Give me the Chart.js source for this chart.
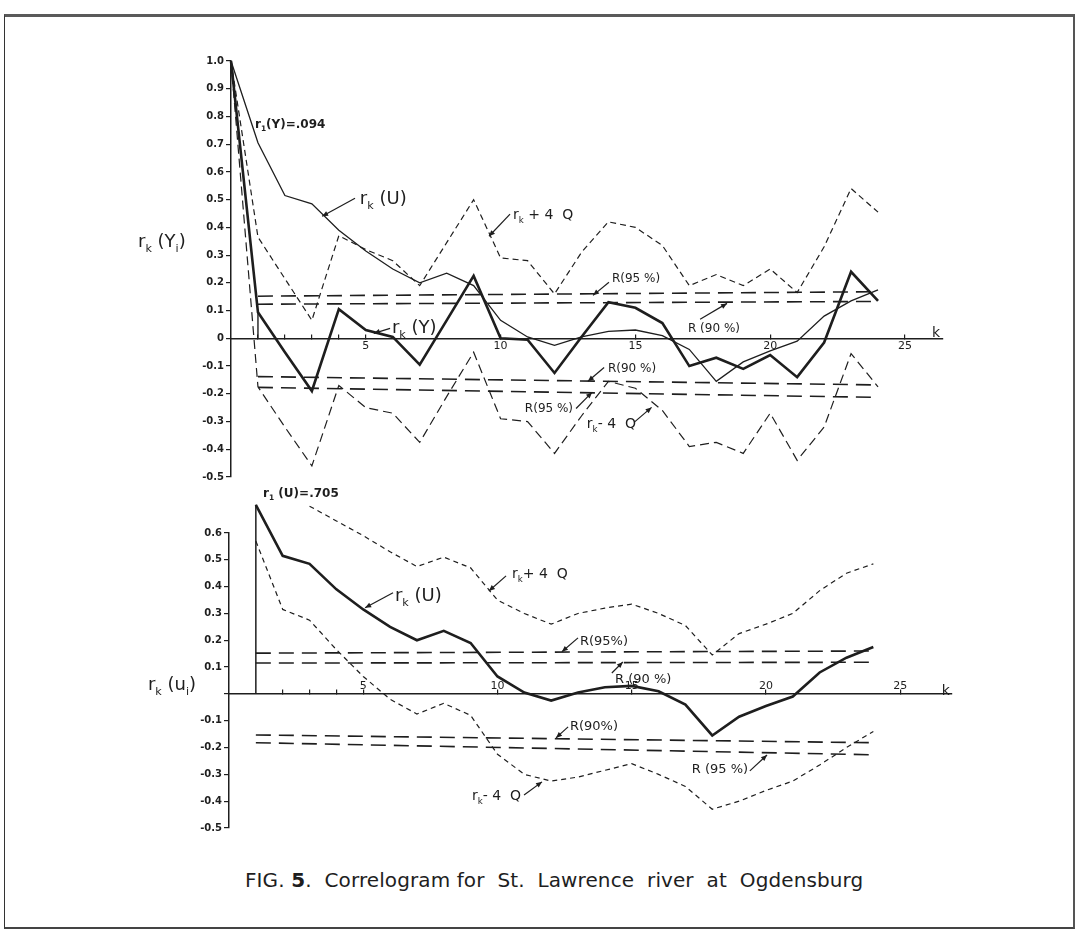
<!DOCTYPE html>
<html>
<head>
<meta charset="utf-8">
<script src="https://cdn.jsdelivr.net/npm/chart.js@4/dist/chart.umd.min.js"></script>
<style>
  html, body { margin: 0; padding: 0; background: #fff; }
  #page { position: relative; width: 1079px; height: 933px; overflow: hidden; background: #fff; }
  #frame { position: absolute; left: 4px; top: 14px; width: 1068px; height: 910px;
           border-top: 3px solid #5a5a5a; border-left: 1.5px solid #333; border-right: 2px solid #555; border-bottom: 2px solid #444; }
  canvas { position: absolute; left: 0; }
  #cTop { top: 0; }
  #cBottom { top: 480px; }
  #caption { position: absolute; left: 245px; top: 868px; font-family: "DejaVu Sans", sans-serif; font-size: 20px;
             color: #1e1e1e; white-space: pre; letter-spacing: 0.1px; }
  #caption b { font-size: 20px; }
</style>
</head>
<body>
<div id="page">
  <div id="frame"></div>
  <canvas id="cTop" width="1079" height="500"></canvas>
  <canvas id="cBottom" width="1079" height="380"></canvas>
  <div id="caption">FIG. <b>5</b>.  Correlogram for  St.  Lawrence  river  at  Ogdensburg</div>
</div>
<script>
// Lags k
const lags = [0, 1, 2, 3, 4, 5, 6, 7, 8, 9, 10, 11, 12, 13, 14, 15, 16, 17, 18, 19, 20, 21, 22, 23, 24];

// Serial correlation of annual flows Y_i
const rY = [1.0, 0.094, -0.05, -0.19, 0.105, 0.03, 0.005, -0.095, 0.065, 0.225, 0.0, -0.005, -0.125, 0.005,
            0.13, 0.11, 0.055, -0.10, -0.07, -0.11, -0.06, -0.14, -0.015, 0.24, 0.135];

// Serial correlation of the series U_i
const rU = [1.0, 0.705, 0.515, 0.485, 0.39, 0.315, 0.25, 0.20, 0.235, 0.19, 0.065, 0.005, -0.025, 0.005,
            0.025, 0.03, 0.01, -0.04, -0.155, -0.085, -0.045, -0.01, 0.08, 0.135, 0.175];

// r_k(Y) +/- 4Q envelope
const rYplus4Q  = [1.0, 0.365, 0.215, 0.065, 0.37, 0.32, 0.28, 0.19, 0.345, 0.50, 0.29, 0.28, 0.16, 0.31,
                   0.42, 0.40, 0.335, 0.19, 0.23, 0.19, 0.25, 0.165, 0.33, 0.54, 0.455];
const rYminus4Q = [1.0, -0.175, -0.32, -0.46, -0.17, -0.25, -0.27, -0.375, -0.21, -0.05, -0.29, -0.30, -0.415, -0.28,
                   -0.155, -0.18, -0.26, -0.39, -0.375, -0.415, -0.27, -0.44, -0.32, -0.055, -0.175];

// r_k(U) +/- 4Q envelope
const lagsUplus = [3, 4, 5, 6, 7, 8, 9, 10, 11, 12, 13, 14, 15, 16, 17, 18, 19, 20, 21, 22, 23, 24];
const rUplus4Q  = [0.70, 0.645, 0.59, 0.53, 0.475, 0.51, 0.47, 0.35, 0.30, 0.26, 0.30, 0.32, 0.335, 0.30,
                   0.255, 0.145, 0.225, 0.26, 0.30, 0.385, 0.45, 0.485];
const lagsUminus = [1, 2, 3, 4, 5, 6, 7, 8, 9, 10, 11, 12, 13, 14, 15, 16, 17, 18, 19, 20, 21, 22, 23, 24];
const rUminus4Q = [0.57, 0.315, 0.275, 0.165, 0.065, -0.02, -0.075, -0.035, -0.08, -0.225, -0.30, -0.325, -0.31,
                   -0.285, -0.26, -0.30, -0.345, -0.43, -0.40, -0.36, -0.325, -0.265, -0.20, -0.14];

// Tolerance limits R(90 %) and R(95 %) at the first and last lag
const limitLags = [1, 24];
const topR95up = [0.152, 0.168];
const topR90up = [0.123, 0.133];
const topR90lo = [-0.138, -0.168];
const topR95lo = [-0.177, -0.213];
const botR95up = [0.152, 0.160];
const botR90up = [0.115, 0.118];
const botR90lo = [-0.153, -0.182];
const botR95lo = [-0.182, -0.227];

// Axis ticks
const kTicks = [1, 2, 3, 4, 5, 10, 15, 20, 25];
const kTicksBottom = [2, 3, 4, 5, 10, 15, 20, 25];
const topYTicks = [-0.5, -0.4, -0.3, -0.2, -0.1, 0, 0.1, 0.2, 0.3, 0.4, 0.5, 0.6, 0.7, 0.8, 0.9, 1.0];
const bottomYTicks = [-0.5, -0.4, -0.3, -0.2, -0.1, 0, 0.1, 0.2, 0.3, 0.4, 0.5, 0.6];

const ink = '#1e1e1e';
const FONT = '"DejaVu Sans", sans-serif';
Chart.defaults.font.family = FONT;
Chart.defaults.color = ink;

const pts = (ks, vs) => ks.map((k, i) => ({ x: k, y: vs[i] }));

function series(data, width, dash) {
  return { data, borderColor: ink, borderWidth: width, borderDash: dash || [], pointRadius: 0,
           tension: 0, fill: false, clip: false, borderJoinStyle: 'miter' };
}

// Labels with subscripts and small arrows, placed in data coordinates
function drawRich(ctx, x, y, parts, size, weight) {
  let cx = x;
  for (const p of parts) {
    const s = p.sub ? size * 0.62 : size;
    ctx.font = `${weight || 'normal'} ${s}px ${FONT}`;
    ctx.fillText(p.t, cx, y + (p.sub ? size * 0.28 : 0));
    cx += ctx.measureText(p.t).width;
  }
}
function drawArrow(ctx, x1, y1, x2, y2) {
  ctx.beginPath(); ctx.moveTo(x1, y1); ctx.lineTo(x2, y2); ctx.stroke();
  const a = Math.atan2(y2 - y1, x2 - x1), L = 6, W = 2.6;
  ctx.beginPath();
  ctx.moveTo(x2, y2);
  ctx.lineTo(x2 - L * Math.cos(a) + W * Math.sin(a), y2 - L * Math.sin(a) - W * Math.cos(a));
  ctx.lineTo(x2 - L * Math.cos(a) - W * Math.sin(a), y2 - L * Math.sin(a) + W * Math.cos(a));
  ctx.closePath(); ctx.fill();
}
function notes(items) {
  return {
    id: 'notes',
    afterDatasetsDraw(chart) {
      const { ctx, scales: { x, y } } = chart;
      ctx.save();
      ctx.fillStyle = ink; ctx.strokeStyle = ink; ctx.lineWidth = 1.2;
      ctx.textAlign = 'left'; ctx.textBaseline = 'alphabetic';
      for (const n of items) {
        drawRich(ctx, x.getPixelForValue(n.at[0]), y.getPixelForValue(n.at[1]), n.parts, n.size, n.weight);
        if (n.arrow) {
          drawArrow(ctx, x.getPixelForValue(n.arrow[0]), y.getPixelForValue(n.arrow[1]),
                         x.getPixelForValue(n.arrow[2]), y.getPixelForValue(n.arrow[3]));
        }
      }
      ctx.restore();
    }
  };
}

const R = t => ({ t });
const S = t => ({ t, sub: true });

function scalesFor(cfg) {
  return {
    x: {
      type: 'linear', min: 0, max: cfg.xMax, position: { y: 0 },
      border: { display: true, color: ink, width: 1.5 },
      grid: { drawOnChartArea: false, drawTicks: true, tickLength: -5, color: ink, lineWidth: 1.2 },
      ticks: { autoSkip: false, maxRotation: 0, padding: cfg.xPad, color: ink,
               font: { size: 11, family: FONT }, callback: v => (v % 5 === 0 ? String(v) : '') },
      afterBuildTicks: s => { s.ticks = cfg.xTicks.map(v => ({ value: v })); }
    },
    y: {
      type: 'linear', min: cfg.yMin, max: cfg.yMax, position: 'left',
      border: { display: true, color: ink, width: 1.5 },
      grid: { drawOnChartArea: false, drawTicks: true, tickLength: 5, color: ink, lineWidth: 1.2 },
      ticks: { padding: 2, color: ink, font: { size: 10, weight: 'bold', family: FONT },
               callback: v => (Math.abs(v) < 1e-9 ? cfg.zeroLabel : v.toFixed(1)) },
      afterBuildTicks: s => { s.ticks = cfg.yTicks.map(v => ({ value: v })); },
      afterFit: s => { s.width = cfg.yWidth; }
    }
  };
}

const common = {
  responsive: false, animation: false, devicePixelRatio: 1,
  plugins: { legend: { display: false }, tooltip: { enabled: false }, title: { display: false } },
  elements: { line: { capBezierPoints: false } }
};

// Upper panel: correlogram of Y
new Chart(document.getElementById('cTop'), {
  type: 'line',
  data: {
    datasets: [
      series(pts(lags, rYplus4Q), 1.2, [6, 4]),
      series(pts(lags, rYminus4Q), 1.2, [9, 5]),
      series(pts(limitLags, topR95up), 1.6, [15, 8]),
      series(pts(limitLags, topR90up), 1.6, [15, 8]),
      series(pts(limitLags, topR90lo), 1.6, [15, 8]),
      series(pts(limitLags, topR95lo), 1.6, [15, 8]),
      series(pts(lags, rU), 1.3),
      series(pts([1, 1], [0, rY[1]]), 1.4),
      series(pts(lags, rY), 2.6)
    ]
  },
  options: Object.assign({}, common, {
    layout: { padding: { top: 61, bottom: 23, left: 0, right: 136 } },
    scales: scalesFor({ xMax: 26.41, xPad: 6, xTicks: kTicks, yMin: -0.5, yMax: 1.0, yTicks: topYTicks,
                        zeroLabel: '0', yWidth: 231 })
  }),
  plugins: [notes([
    { at: [0.89, 0.758], size: 12, weight: 'bold', parts: [R('r'), S('1'), R('(Y)=.094')] },
    { at: [4.78, 0.484], size: 18, parts: [R('r'), S('k'), R(' (U)')], arrow: [4.6, 0.505, 3.38, 0.44] },
    { at: [10.46, 0.43], size: 14, parts: [R('r'), S('k'), R(' + 4  Q')], arrow: [10.35, 0.448, 9.57, 0.368] },
    { at: [14.13, 0.202], size: 12, parts: [R('R(95 %)')], arrow: [14.02, 0.202, 13.43, 0.155] },
    { at: [16.95, 0.022], size: 12, parts: [R('R (90 %)')], arrow: [17.4, 0.069, 18.4, 0.126] },
    { at: [5.97, 0.018], size: 18, parts: [R('r'), S('k'), R(' (Y)')], arrow: [5.9, 0.036, 5.3, 0.018] },
    { at: [13.98, -0.123], size: 12, parts: [R('R(90 %)')], arrow: [13.84, -0.105, 13.24, -0.155] },
    { at: [10.9, -0.267], size: 12, parts: [R('R(95 %)')], arrow: [12.8, -0.253, 13.39, -0.195] },
    { at: [13.2, -0.325], size: 14, parts: [R('r'), S('k'), R('- 4  Q')], arrow: [14.95, -0.303, 15.6, -0.249] },
    { at: [26.0, 0.004], size: 14, parts: [R('k')] },
    { at: [-3.45, 0.33], size: 18, parts: [R('r'), S('k'), R(' (Y'), S('i'), R(')')] }
  ])]
});

// Lower panel: correlogram of U
new Chart(document.getElementById('cBottom'), {
  type: 'line',
  data: {
    datasets: [
      series(pts(lagsUplus, rUplus4Q), 1.2, [5, 4]),
      series(pts(lagsUminus, rUminus4Q), 1.2, [5, 4]),
      series(pts(limitLags, botR95up), 1.6, [15, 8]),
      series(pts(limitLags, botR90up), 1.6, [15, 8]),
      series(pts(limitLags, botR90lo), 1.6, [15, 8]),
      series(pts(limitLags, botR95lo), 1.6, [15, 8]),
      series(pts([1, 1], [0, rU[1]]), 1.5),
      series(pts(lags.slice(1), rU.slice(1)), 2.6)
    ]
  },
  options: Object.assign({}, common, {
    layout: { padding: { top: 53, bottom: 32, left: 0, right: 127 } },
    scales: scalesFor({ xMax: 26.93, xPad: -9, xTicks: kTicksBottom, yMin: -0.5, yMax: 0.6, yTicks: bottomYTicks,
                        zeroLabel: '', yWidth: 229 })
  }),
  plugins: [notes([
    { at: [1.27, 0.735], size: 12, weight: 'bold', parts: [R('r'), S('1'), R(' (U)=.705')] },
    { at: [6.18, 0.347], size: 18, parts: [R('r'), S('k'), R(' (U)')], arrow: [6.11, 0.377, 5.07, 0.321] },
    { at: [10.54, 0.433], size: 14, parts: [R('r'), S('k'), R('+ 4  Q')], arrow: [10.32, 0.44, 9.68, 0.384] },
    { at: [13.07, 0.183], size: 13, parts: [R('R(95%)')], arrow: [13.0, 0.209, 12.4, 0.157] },
    { at: [14.38, 0.041], size: 13, parts: [R('R (90 %)')], arrow: [14.26, 0.078, 14.67, 0.119] },
    { at: [12.7, -0.134], size: 13, parts: [R('R(90%)')], arrow: [12.63, -0.123, 12.18, -0.164] },
    { at: [17.24, -0.295], size: 13, parts: [R('R (95 %)')], arrow: [19.4, -0.287, 20.04, -0.228] },
    { at: [9.05, -0.396], size: 14, parts: [R('r'), S('k'), R('- 4  Q')], arrow: [10.99, -0.377, 11.66, -0.328] },
    { at: [26.55, -0.004], size: 14, parts: [R('k')] },
    { at: [-3.02, 0.015], size: 18, parts: [R('r'), S('k'), R(' (u'), S('i'), R(')')] }
  ])]
});
</script>
</body>
</html>
